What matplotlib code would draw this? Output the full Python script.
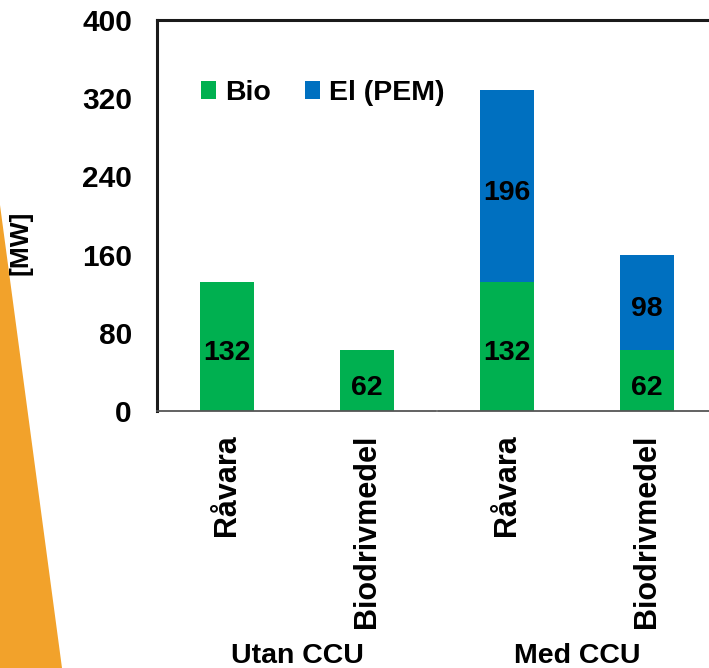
import matplotlib.pyplot as plt
from matplotlib.patches import Polygon
from matplotlib.lines import Line2D

# Power demand per case, stacked Bio + El (PEM)
categories = ['Råvara', 'Biodrivmedel', 'Råvara', 'Biodrivmedel']
groups = ['Utan CCU', 'Med CCU']
bio = [132, 62, 132, 62]
el_pem = [0, 0, 196, 98]
yticks = [0, 80, 160, 240, 320, 400]

green = '#00B050'
blue = '#0070C0'
orange = '#F2A22B'

plt.rcParams['font.family'] = ['Liberation Sans', 'DejaVu Sans']
plt.rcParams['font.weight'] = 'bold'

fig = plt.figure(figsize=(7.09, 6.68), dpi=100)

# orange decoration at the left edge
fig.patches.append(Polygon([(0, 1 - 205 / 668), (62 / 709, 0), (0, 0)],
                           closed=True, transform=fig.transFigure,
                           facecolor=orange, edgecolor='none', zorder=0))

ax = fig.add_axes([157 / 709, 1 - 411 / 668, 560 / 709, 391 / 668])
ax.set_facecolor('none')

x = list(range(len(categories)))
w = 0.39
ax.bar(x, bio, width=w, color=green, label='Bio', zorder=2)
ax.bar(x, el_pem, width=w, bottom=bio, color=blue, label='El (PEM)', zorder=2)


def label(xpos, ypos, val):
    ax.annotate(str(val), (xpos, ypos), xytext=(0, -5), textcoords='offset points',
                ha='center', va='center', fontsize=20.5, fontweight='bold',
                color='black', zorder=3)


for i in x:
    label(i, bio[i] / 2, bio[i])
    if el_pem[i] > 0:
        label(i, bio[i] + el_pem[i] / 2, el_pem[i])

ax.set_xlim(-0.5, 3.5)
ax.set_ylim(0, 400)
ax.set_yticks(yticks)
ax.set_yticklabels([str(v) for v in yticks], fontsize=21.5, fontweight='bold')
ax.set_xticks(x)
ax.set_xticklabels(categories, rotation=90, fontsize=22, fontweight='bold', va='top')
ax.tick_params(axis='y', length=0, pad=18)
ax.tick_params(axis='x', length=0, pad=17)

for s in ['right', 'bottom']:
    ax.spines[s].set_visible(False)
for s in ['left', 'top']:
    ax.spines[s].set_linewidth(2.2)
    ax.spines[s].set_color('#1a1a1a')

# category axis line, split between the two groups
ax.add_line(Line2D([-0.5, 1.49], [0, 0], color='#555555', lw=1.3, clip_on=False, zorder=4))
ax.add_line(Line2D([1.51, 3.5], [0, 0], color='#555555', lw=1.3, clip_on=False, zorder=4))

for g, name in enumerate(groups):
    fig.text((157 + 140 * (2 * g + 1)) / 709, 1 - 656 / 668, name,
             ha='center', va='center', fontsize=20.5, fontweight='bold')

fig.text(21 / 709, 1 - 243 / 668, '[MW]', rotation=90, ha='center', va='center',
         fontsize=19, fontweight='bold')

ax.legend(loc='center left', bbox_to_anchor=(0.032, 0.813), ncol=2, frameon=False,
          handlelength=0.55, handleheight=0.55, handletextpad=0.3, columnspacing=1.2,
          prop={'size': 20.5, 'weight': 'bold'})

fig.savefig('out.png', dpi=100)
